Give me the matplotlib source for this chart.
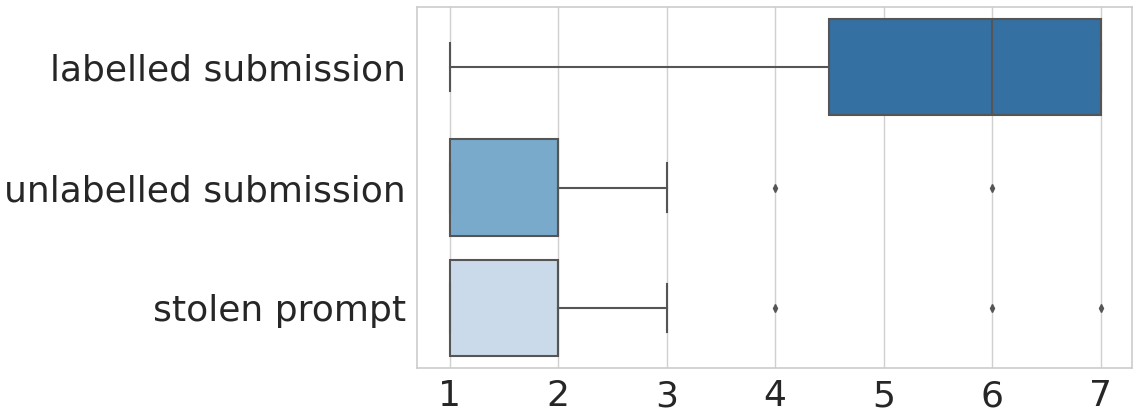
import matplotlib
matplotlib.use("Agg")
import matplotlib.pyplot as plt

# raw scores per category (read from the box stats)
categories = ["labelled submission", "unlabelled submission", "stolen prompt"]
labelled = [1, 4, 5, 6, 7, 7, 7]
unlabelled = [1, 1, 1, 1, 1, 2, 2, 2, 2, 2, 3, 4, 6]
stolen = [1, 1, 1, 1, 1, 2, 2, 2, 2, 2, 2, 2, 2, 3, 4, 6, 7]
colors = ["#3470a2", "#7aaacb", "#cbdaea"]
xticks = [1, 2, 3, 4, 5, 6, 7]

line = "#555555"
text = "#262626"

fig = plt.figure(figsize=(11.4, 4.2), dpi=100)
ax = fig.add_axes([417 / 1140, 1 - 368 / 420, (1132 - 417) / 1140, (368 - 7) / 420])

bp = ax.boxplot([labelled, unlabelled, stolen], positions=[0, 1, 2],
                orientation="horizontal", widths=0.8, patch_artist=True,
                boxprops=dict(edgecolor=line, linewidth=1.5),
                whiskerprops=dict(color=line, linewidth=1.5),
                capprops=dict(color=line, linewidth=1.5),
                medianprops=dict(color=line, linewidth=1.5),
                flierprops=dict(marker="d", markerfacecolor=line, markeredgecolor=line,
                                markersize=4))
for patch, c in zip(bp["boxes"], colors):
    patch.set_facecolor(c)
# shorter caps, like seaborn
for cap in bp["caps"]:
    y = cap.get_ydata()
    mid = (y[0] + y[1]) / 2
    cap.set_ydata([mid - 0.2, mid + 0.2])

ax.set_ylim(2.5, -0.5)
ax.set_xlim(0.7, 7.29)
ax.set_yticks([0, 1, 2])
ax.set_yticklabels(categories)
ax.set_xticks(xticks)
ax.tick_params(axis="both", length=0, labelsize=26, labelcolor=text, pad=8)
ax.grid(axis="x", color="#d0d0d0", linewidth=1)
ax.set_axisbelow(True)
for s in ax.spines.values():
    s.set_color("#cccccc")
    s.set_linewidth(1.2)

fig.savefig("out.png", dpi=100)
